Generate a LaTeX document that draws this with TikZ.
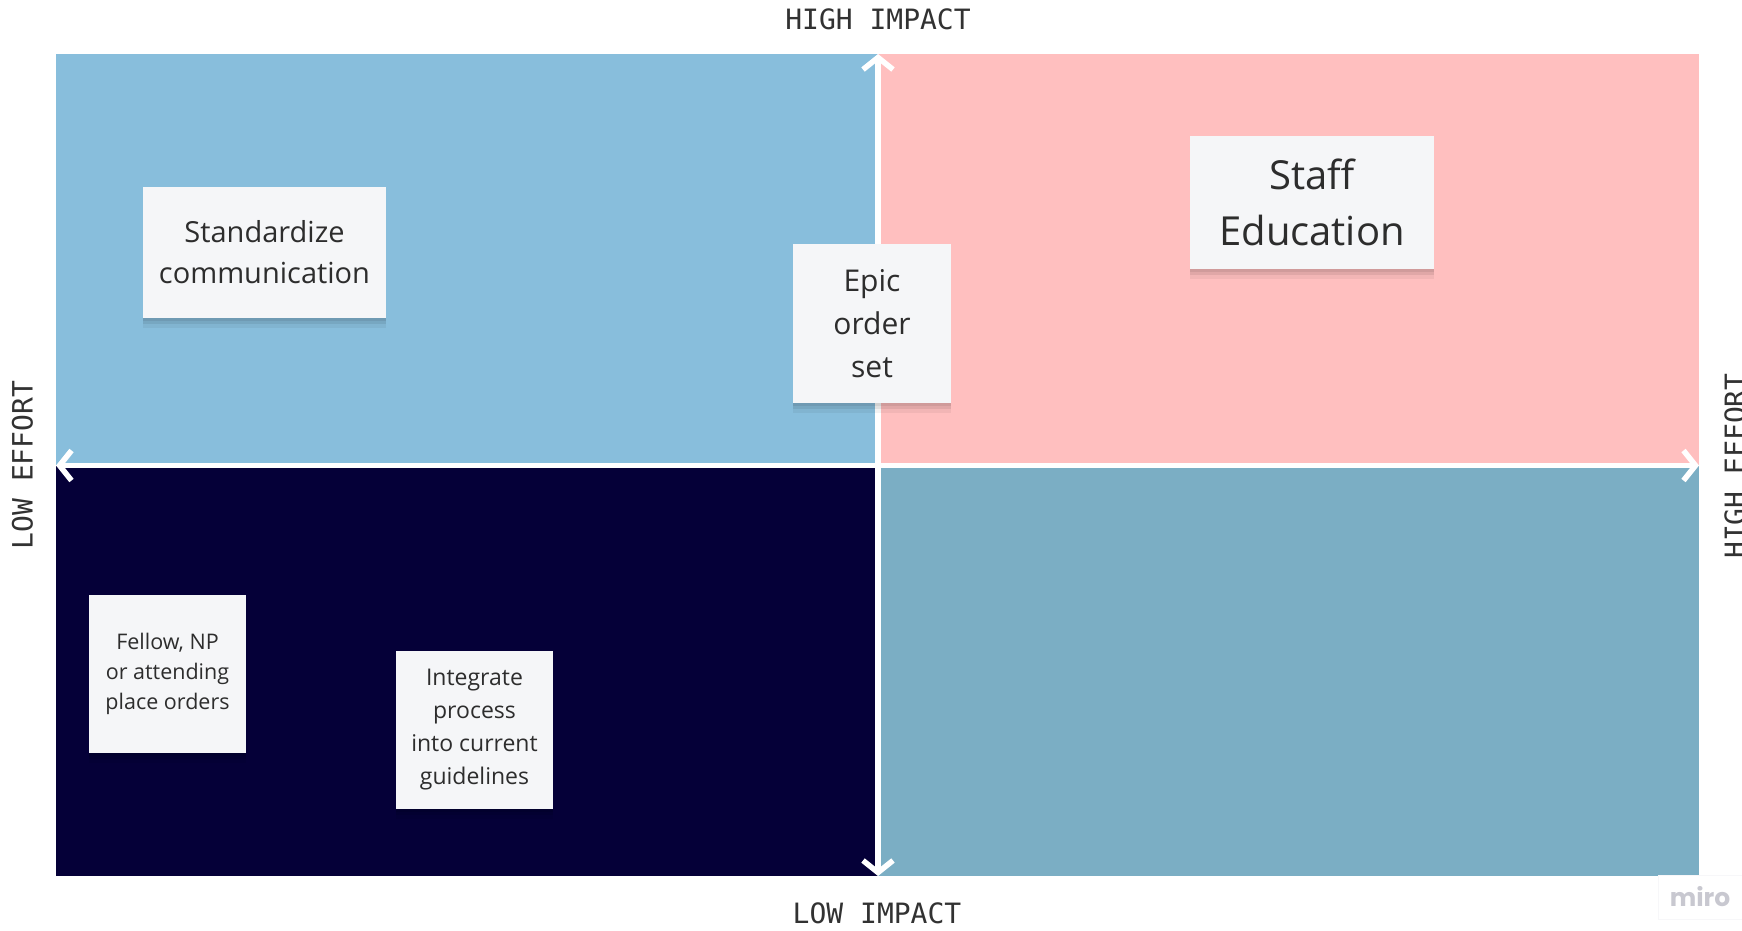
\documentclass[tikz,border=0pt]{standalone}
\usepackage{fontspec}
\setmainfont{Open Sans}
\newfontfamily\monof{DejaVu Sans Mono}
\newfontfamily\logof{Poppins}
\usetikzlibrary{arrows.meta,shadows}
\definecolor{qtl}{RGB}{136,190,220}
\definecolor{qtr}{RGB}{255,191,191}
\definecolor{qbl}{RGB}{5,0,56}
\definecolor{qbr}{RGB}{123,174,196}
\definecolor{notefill}{RGB}{245,246,248}
\definecolor{notetext}{RGB}{45,45,45}
\definecolor{labeltext}{RGB}{50,50,50}
\definecolor{logogray}{RGB}{200,200,208}
\definecolor{logobox}{RGB}{247,247,249}
\tikzset{
  sticky/.style={rectangle, fill=notefill, inner sep=0pt, align=center,
    text=notetext,
    general shadow={fill=black, opacity=.07, shadow yshift=-3pt},
    general shadow={fill=black, opacity=.07, shadow yshift=-6pt},
    general shadow={fill=black, opacity=.05, shadow yshift=-10pt}},
  axislabel/.style={font=\monof\fontsize{28}{30}\selectfont, text=labeltext, inner sep=0pt},
  axis/.style={draw=white, line width=5.5pt,
    {Straight Barb[length=12pt,width=30pt]}-{Straight Barb[length=12pt,width=30pt]}}
}
\begin{document}
\begin{tikzpicture}[x=1pt,y=-1pt]
\useasboundingbox[fill=white] (0,0) rectangle (1742,930);
% quadrants
\fill[qtl] (56,54) rectangle (878,465.5);
\fill[qtr] (878,54) rectangle (1699,465.5);
\fill[qbl] (56,465.5) rectangle (878,876);
\fill[qbr] (878,465.5) rectangle (1699,876);
% axes
\coordinate (vtop) at (878,54);
\coordinate (vbot) at (878,876);
\coordinate (hleft) at (56,465.5);
\coordinate (hright) at (1699,465.5);
\draw[axis] (vtop) -- (vbot);
\draw[axis] (hleft) -- (hright);
% axis labels
\node[axislabel] (hi) at (878,19) {HIGH IMPACT};
\node[axislabel] (lo) at (877,913) {LOW IMPACT};
\node[axislabel, rotate=90] (le) at (22.5,465) {LOW EFFORT};
\node[axislabel, rotate=90] (he) at (1735,466) {HIGH EFFORT};
% sticky notes
\node[sticky, minimum width=243pt, minimum height=131pt,
  font=\fontsize{29}{41}\selectfont] (std) at (264.5,252) {Standardize\\communication};
\node[sticky, minimum width=158pt, minimum height=159pt,
  font=\fontsize{30}{43}\selectfont] (epic) at (872,323.5) {Epic\\order\\set};
\node[sticky, minimum width=244pt, minimum height=133pt,
  font=\fontsize{40}{56}\selectfont] (staff) at (1312,202.5) {Staff\\Education};
\node[sticky, minimum width=157pt, minimum height=158pt,
  font=\fontsize{21.5}{30}\selectfont] (fellow) at (167.5,674) {Fellow, NP\\or attending\\place orders};
\node[sticky, minimum width=157pt, minimum height=158pt,
  font=\fontsize{23}{33}\selectfont] (integ) at (474.5,730) {Integrate\\process\\into current\\guidelines};
% logo
\draw[draw=logobox, line width=0.6pt] (1658,875) rectangle (1742,919);
\node[text=logogray, font=\logof\bfseries\fontsize{25}{26}\selectfont, inner sep=0pt] (miro) at (1700,897) {miro};
\end{tikzpicture}
\end{document}
